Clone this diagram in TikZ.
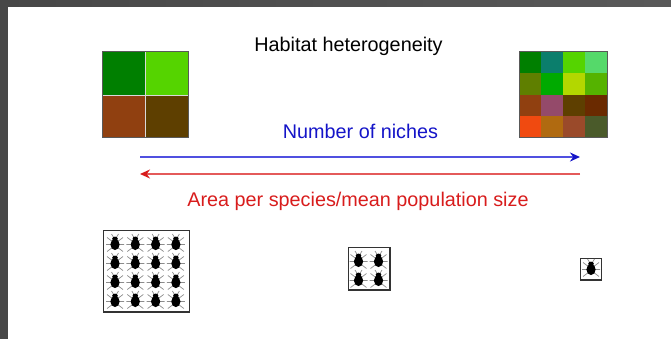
\documentclass[tikz,border=0pt]{standalone}
\usepackage{fontspec}
\setmainfont{Liberation Sans}
\usetikzlibrary{positioning, arrows.meta, calc}
\definecolor{HH_Blue}{HTML}{1414C8}
\definecolor{HH_BlueLine}{HTML}{5050E0}
\definecolor{HH_Red}{HTML}{D81C1C}
\definecolor{HH_RedLine}{HTML}{E45A5A}
\definecolor{HH_Frame}{HTML}{474747}
% patch colours
\definecolor{P_dkgreen}{HTML}{007F00}
\definecolor{P_ltgreen}{HTML}{55D400}
\definecolor{P_rust}{HTML}{904010}
\definecolor{P_dkbrown}{HTML}{5E3F00}
\definecolor{P_teal}{HTML}{0B7E6C}
\definecolor{P_mint}{HTML}{55D96A}
\definecolor{P_olive}{HTML}{5F7F00}
\definecolor{P_green}{HTML}{00AA00}
\definecolor{P_lime}{HTML}{B3D700}
\definecolor{P_grass}{HTML}{55B300}
\definecolor{P_mauve}{HTML}{944A6A}
\definecolor{P_maroon}{HTML}{6A2A00}
\definecolor{P_orange}{HTML}{F04A10}
\definecolor{P_ochre}{HTML}{B06A10}
\definecolor{P_clay}{HTML}{9A4A2A}
\definecolor{P_moss}{HTML}{4A5A2A}

\tikzset{
  beetle/.pic={
    % legs and antennae
    \draw[black!45, line width=0.7pt]
      (-2,-1) -- (-8,-5.5) (2,-1) -- (8,-5.5)
      (-3,1.5) -- (-9,1.5) (3,1.5) -- (9,1.5)
      (-2,4) -- (-8,8.5) (2,4) -- (8,8.5)
      (-1,-5) -- (-3.5,-9) (1,-5) -- (3.5,-9);
    % body and head
    \fill[black] (0,1.5) ellipse (4.6 and 5.6);
    \fill[black] (0,-4.2) ellipse (2.8 and 2.2);
  }
}

\begin{document}
\begin{tikzpicture}[
  x=1pt, y=-1pt,
  every node/.style={font=\fontsize{19.8}{23}\selectfont, inner sep=0pt},
  patch/.style={draw=white!70!gray, line width=0.5pt},
  frame/.style={draw=black!65, line width=1pt},
  cage/.style={draw=black!80, line width=1.5pt},
  barr/.style={-{Stealth[length=10pt, width=9pt, color=HH_Blue]}, line width=1.8pt, HH_BlueLine},
  rarr/.style={-{Stealth[length=10pt, width=9pt, color=HH_Red]}, line width=1.8pt, HH_RedLine}
]
  \useasboundingbox (0,0) rectangle (671,339);

  % Window edge (top and left)
  \shade[left color=HH_Frame, right color=black!65] (0,0) rectangle (671,7);
  \fill[HH_Frame] (0,0) rectangle (8,339);

  % Title
  \node (title) at (348.5,46.5) {Habitat heterogeneity};

  % Coarse habitat: 2x2 patches
  \foreach \c [count=\i from 0] in {P_dkgreen, P_ltgreen, P_rust, P_dkbrown} {
    \pgfmathsetmacro\cx{102 + 43*mod(\i,2)}
    \pgfmathsetmacro\cy{52 + 43*int(\i/2)}
    \fill[\c] (\cx,\cy) rectangle ++(43,43);
  }
  \draw[patch] (145,52) -- (145,138) (102,95) -- (188,95);
  \draw[frame] (102,52) rectangle (188,138);
  \coordinate (coarse) at (145,95);

  % Fine habitat: 4x4 patches
  \foreach \c [count=\i from 0] in {P_dkgreen, P_teal, P_ltgreen, P_mint,
                                    P_olive, P_green, P_lime, P_grass,
                                    P_rust, P_mauve, P_dkbrown, P_maroon,
                                    P_orange, P_ochre, P_clay, P_moss} {
    \pgfmathsetmacro\cx{519 + 22*mod(\i,4)}
    \pgfmathsetmacro\cy{52 + 21.5*int(\i/4)}
    \fill[\c] (\cx,\cy) rectangle ++(22,21.5);
  }
  \draw[frame] (519,52) rectangle (607,138);
  \coordinate (fine) at (563,95);

  % Number of niches (increasing)
  \node[HH_Blue] (niches) at (360.5,131) {Number of niches};
  \coordinate (nichesL) at (140,157);
  \coordinate (nichesR) at (580,157);
  \draw[barr] (nichesL) -- (nichesR);

  % Area per species (decreasing)
  \coordinate (areaR) at (580,174);
  \coordinate (areaL) at (140,174);
  \draw[rarr] (areaR) -- (areaL);
  \node[HH_Red] (area) at (358,201.5) {Area per species/mean population size};

  % Populations
  \draw[cage] (103.5,230.5) rectangle (189.5,312);
  \foreach \bx in {0,...,3}
    \foreach \by in {0,...,3}
      \pic at ({115 + 20.3*\bx}, {243 + 19*\by}) {beetle};

  \draw[cage] (348.5,247.5) rectangle (390,290);
  \foreach \bx in {0,1}
    \foreach \by in {0,1}
      \pic at ({358.5 + 20*\bx}, {260 + 19*\by}) {beetle};

  \draw[cage] (580.5,258.5) rectangle (601.5,280);
  \pic at (591,268) {beetle};
\end{tikzpicture}
\end{document}
